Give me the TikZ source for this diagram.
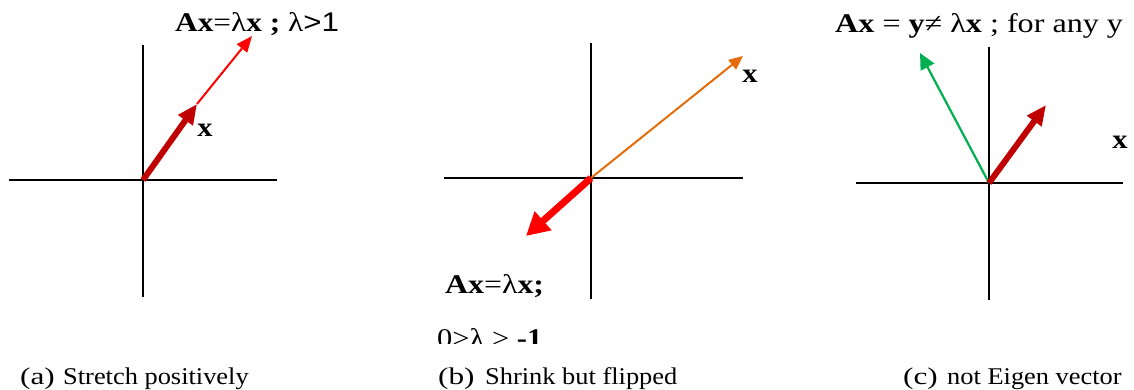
\documentclass[tikz,border=0pt]{standalone}
\usepackage{fontspec}
\setmainfont{Liberation Serif}
\newfontfamily\sansf{Liberation Sans}
\usetikzlibrary{arrows.meta}
\definecolor{darkred}{RGB}{192,0,0}
\definecolor{orng}{RGB}{228,108,10}
\definecolor{grn}{RGB}{0,176,80}
\newcommand{\wide}[1]{\scalebox{1.13}[1]{#1}}
\newcommand{\capw}[1]{\scalebox{1.1}[1]{#1}}
\newcommand{\labw}[1]{\scalebox{1.3}[1]{#1}}
\begin{document}
\begin{tikzpicture}[x=1pt,y=-1pt,
  axis/.style={line width=1.6pt,black},
  bigtxt/.style={font=\fontsize{27}{30}\selectfont, inner sep=0pt},
  xlab/.style={font=\fontsize{27}{30}\selectfont\bfseries, inner sep=0pt},
  captxt/.style={font=\fontsize{24}{27}\selectfont, inner sep=0pt, anchor=base west},
  thinred/.style={red, line width=2pt, -{Triangle[length=16pt,width=13pt]}},
  thickdr/.style={darkred, line width=6pt, -{Triangle[length=20pt,width=17pt]}},
  thickred/.style={red, line width=7pt, -{Triangle[length=23pt,width=24pt]}},
  orarrow/.style={orng, line width=2pt, -{Triangle[length=14pt,width=12pt]}},
  grarrow/.style={grn, line width=2.2pt, -{Triangle[length=16pt,width=15pt]}},
]
\useasboundingbox (0,0) rectangle (1134,390);

% ---------- panel (a)
\coordinate (oa) at (143,180);
\coordinate (ha1) at (9,180);   \coordinate (ha2) at (277,180);
\coordinate (va1) at (143,45);  \coordinate (va2) at (143,297);
\draw[axis] (ha1) -- (ha2);
\draw[axis] (va1) -- (va2);
\coordinate (xa) at (197,104);
\coordinate (axa) at (252,36);
\draw[thinred] (xa) -- (axa);
\draw[thickdr] (oa) -- (xa);
\node[xlab] (lxa) at (205,130) {\wide{x}};
\node[bigtxt, anchor=base west] (ta) at (175,32)
  {\scalebox{1.16}[1]{\textbf{Ax}=λ\textbf{x ;} λ{\sansf >1}}};

% ---------- panel (b)
\coordinate (ob) at (591,178);
\coordinate (hb1) at (444,178);  \coordinate (hb2) at (743,178);
\coordinate (vb1) at (591,43);   \coordinate (vb2) at (591,299);
\draw[axis] (hb1) -- (hb2);
\draw[axis] (vb1) -- (vb2);
\coordinate (xb) at (743,56);
\coordinate (axb) at (526,236);
\draw[orarrow] (ob) -- (xb);
\draw[thickred] (ob) -- (axb);
\node[xlab] (lxb) at (750,76) {\wide{x}};
\node[bigtxt, anchor=base west] (tb) at (445,293) {\scalebox{1.18}[1]{\textbf{Ax}=λ\textbf{x;}}};
\begin{scope}
  \clip (380,300) rectangle (700,343);
  \node[bigtxt, anchor=base west] (tb2) at (437,347) {\wide{0>λ > \textbf{-1}}};
\end{scope}

% ---------- panel (c)
\coordinate (oc) at (989,183);
\coordinate (hc1) at (856,183);  \coordinate (hc2) at (1123,183);
\coordinate (vc1) at (989,47);   \coordinate (vc2) at (989,300);
\draw[axis] (hc1) -- (hc2);
\draw[axis] (vc1) -- (vc2);
\coordinate (yc) at (920,53);
\coordinate (xc) at (1046,105);
\draw[grarrow] (oc) -- (yc);
\draw[thickdr] (oc) -- (xc);
\node[xlab] (lxc) at (1120,142) {\wide{x}};
\node[bigtxt, anchor=base west] (tc) at (835,33)
  {\scalebox{1.19}[1]{\textbf{Ax} = \textbf{y}≠ λ\textbf{x} ; for any y}};

% ---------- captions
\node[captxt] (ca) at (20,384) {\labw{(a)}};
\node[captxt] (ca2) at (63,384) {\capw{Stretch positively}};
\node[captxt] (cb) at (438,384) {\labw{(b)}};
\node[captxt] (cb2) at (485,384) {\capw{Shrink but flipped}};
\node[captxt] (cc) at (903,384) {\labw{(c)}};
\node[captxt] (cc2) at (947,384) {\capw{not Eigen vector}};
\end{tikzpicture}
\end{document}
